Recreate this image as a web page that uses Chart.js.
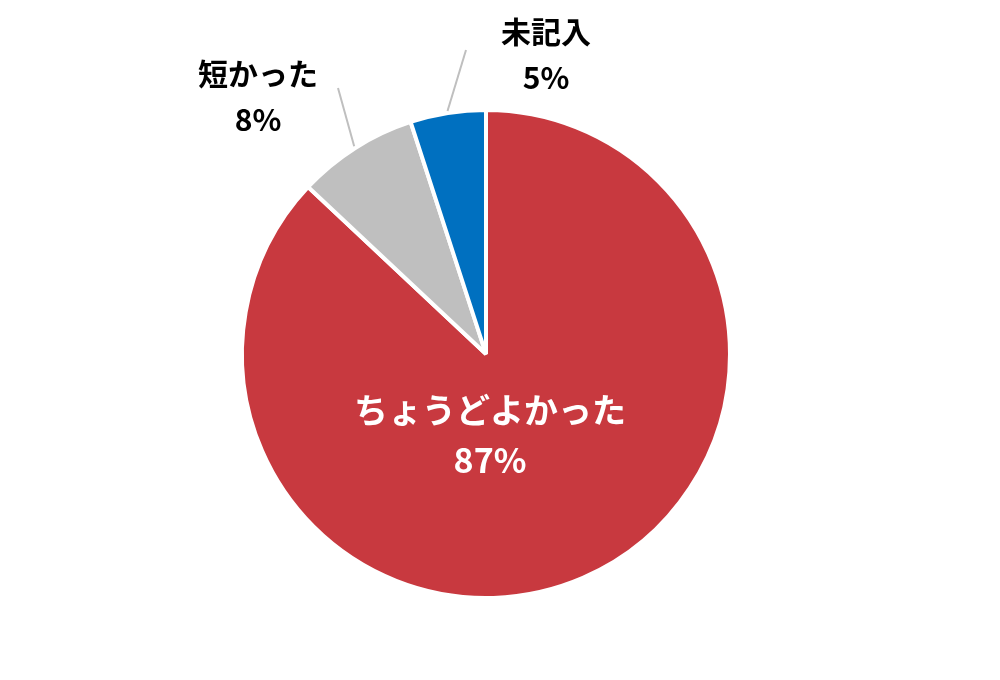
<!DOCTYPE html>
<html><head><meta charset="utf-8">
<script src="https://cdn.jsdelivr.net/npm/chart.js@4"></script>
<style>body{margin:0;background:#fff}#wrap{width:1000px;height:680px}</style>
</head><body><div id="wrap"><canvas id="chart"></canvas></div>
<script>
const labels = ["ちょうどよかった", "短かった", "未記入"];
const values = [87, 8, 5];
const colors = ["#C8393F", "#BFBFBF", "#0070C0"];

const labelPlugin = {
  id: "labelPlugin",
  afterDatasetsDraw(chart) {
    const ctx = chart.ctx;
    const arcs = chart.getDatasetMeta(0).data;
    ctx.save();
    ctx.textAlign = "center";
    ctx.textBaseline = "middle";
    arcs.forEach((arc, i) => {
      const mid = (arc.startAngle + arc.endAngle) / 2;
      const r = arc.outerRadius;
      const x0 = arc.x, y0 = arc.y;
      if (i === 0) {
        ctx.fillStyle = "#fff";
        ctx.font = "bold 34px 'Noto Sans CJK JP'";
        ctx.fillText(labels[i], x0 + 4, y0 + 56);
        ctx.fillText(values[i] + "%", x0 + 4, y0 + 106);
        return;
      }
      const sx = x0 + Math.cos(mid) * (r + 2), sy = y0 + Math.sin(mid) * (r + 2);
      const ex = i === 1 ? 338 - 486 + x0 : 466 - 486 + x0;
      const ey = i === 1 ? 88 - 354 + y0 : 50 - 354 + y0;
      ctx.strokeStyle = "#BFBFBF";
      ctx.lineWidth = 2;
      ctx.beginPath(); ctx.moveTo(sx, sy); ctx.lineTo(ex, ey); ctx.stroke();
      const tx = i === 1 ? x0 - 228 : x0 + 60;
      const ty = i === 1 ? y0 - 280 : y0 - 322;
      ctx.fillStyle = "#000";
      ctx.font = "bold 30px 'Noto Sans CJK JP'";
      ctx.fillText(labels[i], tx, ty);
      ctx.fillText(values[i] + "%", tx, ty + 46);
    });
    ctx.restore();
  }
};

new Chart(document.getElementById("chart"), {
  type: "pie",
  data: {
    labels: labels,
    datasets: [{ data: values, backgroundColor: colors, borderColor: "#fff", borderWidth: 4 }]
  },
  options: {
    responsive: true,
    maintainAspectRatio: false,
    animation: false,
    layout: { padding: { top: 108, bottom: 80, left: 240, right: 268 } },
    plugins: { legend: { display: false }, tooltip: { enabled: false } }
  },
  plugins: [labelPlugin]
});
</script></body></html>
